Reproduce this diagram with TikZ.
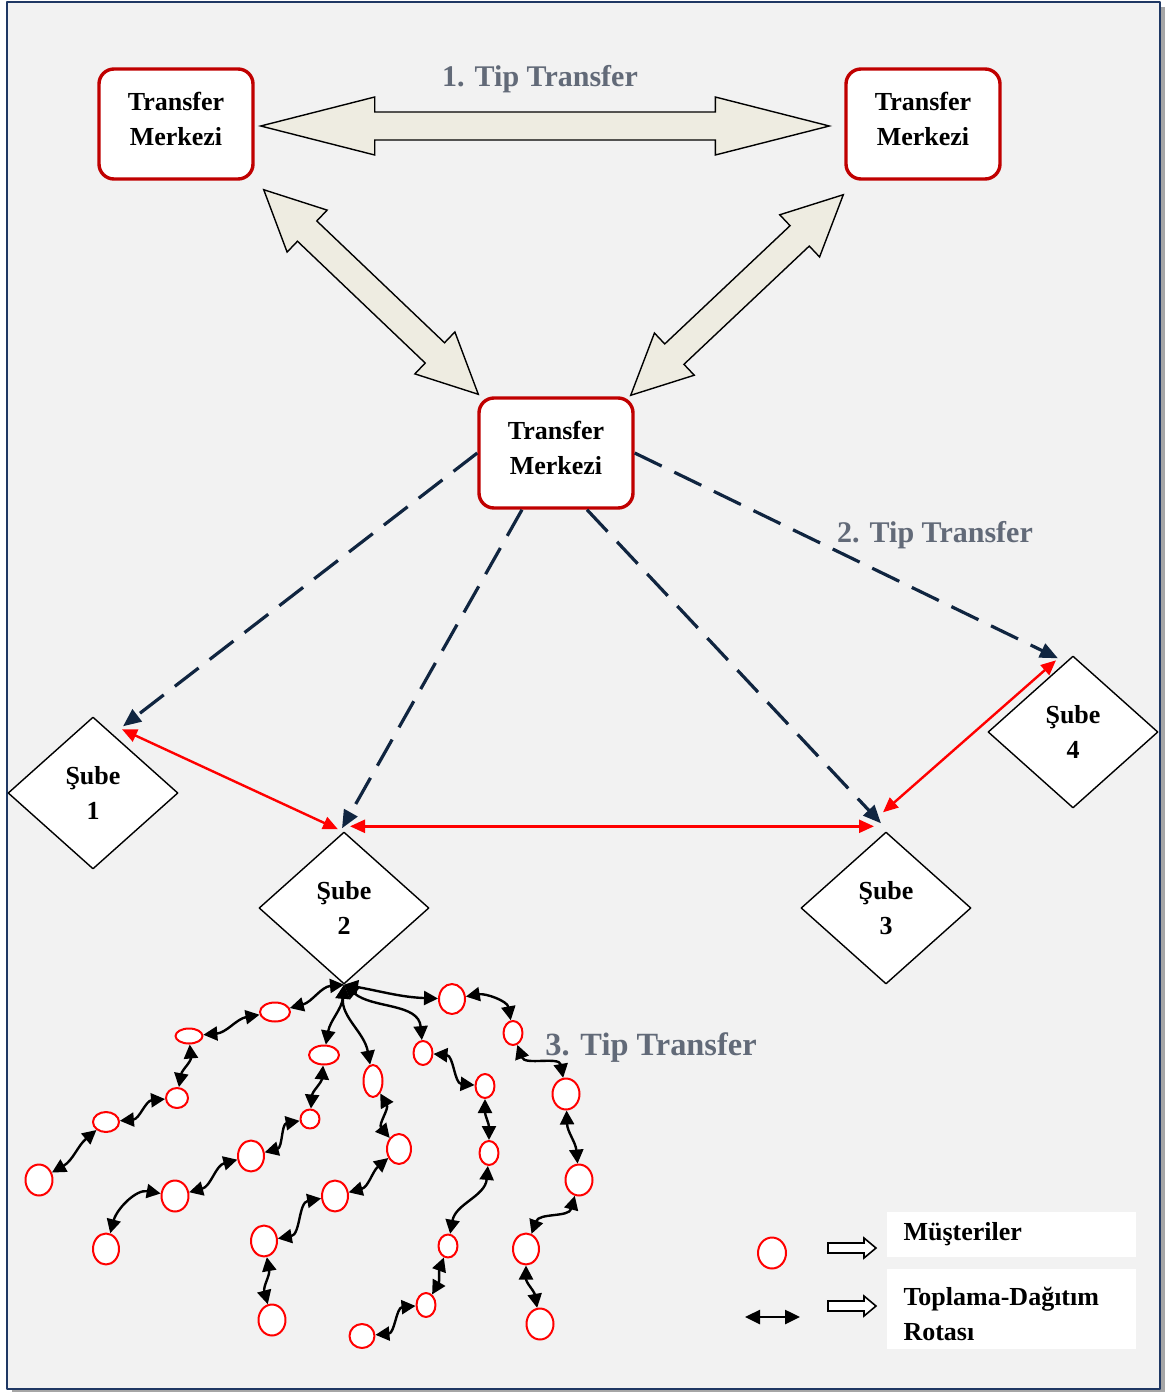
\documentclass[tikz,border=0pt]{standalone}
\usepackage{fontspec}
\setmainfont{Liberation Serif}
\usetikzlibrary{arrows.meta,calc,shapes.geometric}
\definecolor{merkezkirmizi}{RGB}{192,0,0}
\definecolor{lacivert}{RGB}{16,37,64}
\definecolor{blokdolgu}{RGB}{238,236,225}
\definecolor{zemin}{RGB}{242,242,242}
\definecolor{cerceve}{RGB}{31,56,100}
\definecolor{etiketgri}{RGB}{98,106,120}
% kalin cift yonlu ok: uc1, uc2, bas boyu, bas yari genislik, govde yari genislik
\newcommand\kalinok[5]{%
	\draw[kalin] (#1) -- ($(#1)!#3!(#2)!#4!90:(#2)$) -- ($(#1)!#3!(#2)!#5!90:(#2)$)
	-- ($(#2)!#3!(#1)!#5!-90:(#1)$) -- ($(#2)!#3!(#1)!#4!-90:(#1)$) -- (#2)
	-- ($(#2)!#3!(#1)!#4!90:(#1)$) -- ($(#2)!#3!(#1)!#5!90:(#1)$)
	-- ($(#1)!#3!(#2)!#5!-90:(#2)$) -- ($(#1)!#3!(#2)!#4!-90:(#2)$) -- cycle;}
\newcommand\merkeztext{Transfer\\Merkezi\rule[-5.5pt]{0pt}{5.5pt}}
\begin{document}
\begin{tikzpicture}[x=0.5pt,y=-0.5pt, line join=round, font=\bfseries\fontsize{13}{17.5}\selectfont,
	merkez/.style={draw=merkezkirmizi, line width=1.7pt, rounded corners=7.5pt, fill=white, minimum width=77pt, minimum height=55pt, inner sep=0pt, align=center},
	sube/.style={diamond, draw, fill=white, line width=0.7pt, minimum width=85pt, minimum height=76pt, inner sep=0pt, align=center},
	musteri/.style={ellipse, draw=red, fill=white, line width=1pt, inner sep=0pt},
	kalin/.style={draw=black, fill=blokdolgu, line width=0.7pt, line join=miter},
	kesik/.style={lacivert, line width=1.6pt, dash pattern=on 15pt off 7pt, -{Triangle[length=9pt,width=7.5pt]}},
	kirmizi/.style={red, line width=1.2pt, {Triangle[length=7.5pt,width=6.5pt]}-{Triangle[length=7.5pt,width=6.5pt]}},
	rota/.style={black, line width=1.2pt, {Triangle[length=7pt,width=7pt]}-{Triangle[length=7pt,width=7pt]}},
	tip/.style={etiketgri, font=\bfseries\fontsize{15}{18}\selectfont},
	aciklama/.style={fill=white, minimum width=124.5pt, inner xsep=8pt, text width=108pt, align=left}]
	\useasboundingbox (0,0) rectangle (1166,1392);
	\fill[gray!70] (12,7) rectangle (1165,1392);
	\draw[cerceve, fill=zemin, line width=1pt] (7,2) rectangle (1160,1389);
	% transfer merkezleri
	\node[merkez] (tm1) at (176,124) {\merkeztext};
	\node[merkez] (tm2) at (923,124) {\merkeztext};
	\node[merkez] (tm3) at (556,453) {\merkeztext};
	% subeler
	\node[sube] (s1) at (93,793) {Şube\\1};
	\node[sube] (s2) at (344,908) {Şube\\2};
	\node[sube] (s3) at (886,908) {Şube\\3};
	\node[sube] (s4) at (1073,732) {Şube\\4};
	% 1. tip
	\coordinate (u1) at ([shift={(6,2)}]tm1.east);
	\coordinate (u2) at ([shift={(-15,2)}]tm2.west);
	\coordinate (u3) at ([shift={(9,9)}]tm1.south east);
	\coordinate (u4) at ([shift={(1,-2)}]tm3.north west);
	\coordinate (u5) at ([shift={(-1,14)}]tm2.south west);
	\coordinate (u6) at ([shift={(-4,-1)}]tm3.north east);
	\kalinok{u1}{u2}{57pt}{14.5pt}{7pt}
	\kalinok{u3}{u4}{30pt}{14.5pt}{7pt}
	\kalinok{u5}{u6}{30pt}{14.5pt}{7pt}
	\node[tip] (t1) at (540,79) {1. Tip Transfer};
	% 2. tip
	\draw[kesik] (tm3.west) -- ([shift={(30,10)}]s1.north);
	\draw[kesik] ([shift={(-34,0)}]tm3.south) -- ([shift={(-2,-3)}]s2.north);
	\draw[kesik] ([shift={(31,0)}]tm3.south) -- ([shift={(-5,-8)}]s3.north);
	\draw[kesik] (tm3.east) -- ([shift={(-15,3)}]s4.north);
	\node[tip] (t2) at (935,535) {2. Tip Transfer};
	\draw[kirmizi] ([shift={(29,13)}]s1.north) -- ([shift={(-6,-2)}]s2.north);
	\draw[kirmizi] ([shift={(6,-5)}]s2.north) -- ([shift={(-12,-5)}]s3.north);
	\draw[kirmizi] ([shift={(-3,-19)}]s3.north) -- ([shift={(-17,5)}]s4.north);
	% 3. tip: musteriler
	\foreach \n/\x/\y/\w/\h in {a1/275/1012/30/19, a2/189/1036/27/15, a3/177/1098/22/20, a4/106/1122/26/20, a5/39/1180/27/31,
		b1/324/1055/30/19, b2/310/1119/19/19, b3/251/1156/26/31, b4/175/1196/27/31, b5/106/1249/26/31,
		c1/373/1081/19/32, c2/399/1149/24/30, c3/335/1196/26/31, c4/264/1241/26/31, c5/272/1320/27/31,
		d1/423/1053/19/24, d2/485/1086/19/24, d3/489/1153/19/24, d4/448/1246/19/23, d5/426/1305/19/24, d6/362/1336/25/24,
		e1/452/999/26/30, e2/513/1033/19/24, e3/566/1094/27/31, e4/579/1180/27/31, e5/526/1249/26/31, e6/540/1324/27/31}
		\node[musteri, minimum width=\w*0.5pt, minimum height=\h*0.5pt] (\n) at (\x,\y) {};
	\foreach \p/\q/\o/\i in {s2.south/a1/185/15, a1/a2/190/5, a2/a3/-85/80, a3/a4/185/5, a4/a5/-140/30,
		s2.south/b1/-95/80, b1/b2/-95/85, b2/b3/190/15, b3/b4/195/15, b4/b5/170/75,
		s2.south/c1/-95/100, c1/c2/-60/130, c2/c3/220/15, c3/c4/190/10, c4/c5/-80/105,
		s2.south/d1/-40/95, d1/d2/-5/175, d2/d3/-90/90, d3/d4/-95/80, d4/d5/-110/60, d5/d6/185/5,
		s2.south/e1/-10/178, e1/e2/10/100, e2/e3/-70/100, e3/e4/-88/95, e4/e5/-105/70, e5/e6/-90/100}
		\draw[rota] (\p) to[out=\o,in=\i] (\q);
	\node[tip, font=\bfseries\fontsize{16.2}{19}\selectfont] (t3) at (651,1048) {3. Tip Transfer};
	% aciklama
	\node[musteri, minimum width=14pt, minimum height=15.5pt] (lm) at (772,1253) {};
	\coordinate (lo1) at (745,1317);
	\coordinate (lo2) at (800,1317);
	\draw[black, line width=1.3pt, {Triangle[length=7.5pt,width=7pt]}-{Triangle[length=7.5pt,width=7pt]}] (lo1) -- (lo2);
	\foreach \yy in {1248,1306}
		\draw[fill=white, line width=0.8pt, line join=miter] (828,{\yy-5}) -- (864,{\yy-5}) -- (864,{\yy-10}) -- (876,\yy)
		-- (864,{\yy+10}) -- (864,{\yy+5}) -- (828,{\yy+5}) -- cycle;
	\node[aciklama, minimum height=22.5pt] (k1) at (1011.5,1234.5) {Müşteriler};
	\node[aciklama, minimum height=40pt] (k2) at (1011.5,1309) {\rule{0pt}{14pt}Toplama-Dağıtım\\Rotası};
\end{tikzpicture}
\end{document}
